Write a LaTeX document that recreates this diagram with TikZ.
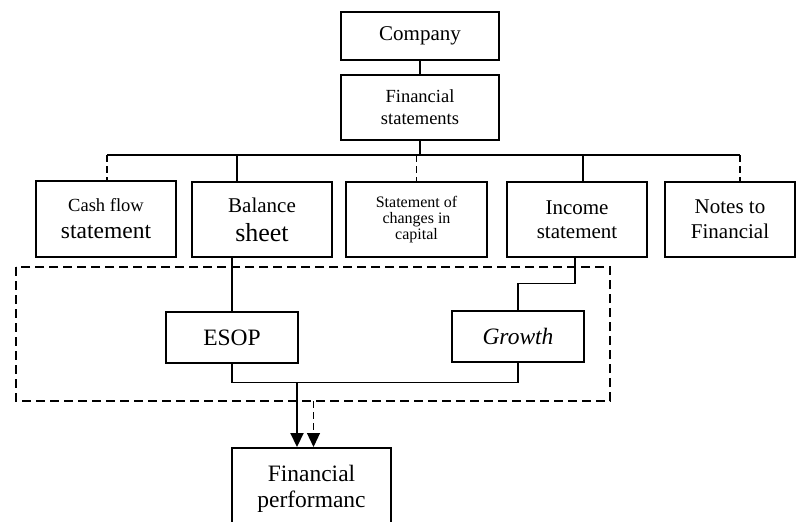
\documentclass[tikz,border=0pt]{standalone}
\usepackage{fontspec}
\setmainfont{Liberation Serif}
\usetikzlibrary{positioning,arrows.meta}
\newcommand\fsz[2]{\fontsize{#1pt}{#2pt}\selectfont}

\begin{document}
\begin{tikzpicture}[x=1pt, y=-1pt,
    box/.style={draw, line width=1.6pt, align=center, inner sep=0pt},
    link/.style={line width=1.2pt},
    dlink/.style={line width=1.2pt, dash pattern=on 7pt off 4pt},
    >={Triangle[length=14pt,width=13pt]}]
    \path[use as bounding box, fill=white] (0,0) rectangle (796,522);

    % top of the tree
    \node [box, minimum width=158pt, minimum height=48pt, font=\fsz{21}{24}] (company) at (420,36) {Company};
    \node [box, minimum width=158pt, minimum height=65pt, font=\fsz{18.5}{22}] (fs) at (420,107.5) {Financial\\statements};

    % the five statements
    \node [box, minimum width=140pt, minimum height=76pt, font=\fsz{23.5}{27}] (cash) at (106,219) {{\fsz{18.5}{22}Cash flow}\\statement};
    \node [box, minimum width=140pt, minimum height=75pt, font=\fsz{26}{29}] (bal) at (262,219.5) {{\fsz{21}{24}Balance}\\sheet};
    \node [box, minimum width=141pt, minimum height=75pt, font=\fsz{16}{16}] (soc) at (416.5,219.5) {Statement of\\changes in\\capital};
    \node [box, minimum width=140pt, minimum height=75pt, font=\fsz{21}{24}] (inc) at (577,219.5) {Income\\statement};
    \node [box, minimum width=130pt, minimum height=75pt, font=\fsz{21}{25}] (notes) at (730,219.5) {Notes to\\Financial};

    \coordinate (busL) at (107,155);
    \coordinate (busR) at (740,155);
    \draw[link] (company) -- (fs);
    \draw[link] (fs.south) -- (fs.south |- busL);
    \draw[link] (busL) -- (busR);
    \draw[dlink] (busL) -- (busL |- cash.north);
    \draw[link] ([xshift=-25pt]bal.north |- busL) -- ([xshift=-25pt]bal.north);
    \draw[dlink] (soc.north |- busL) -- (soc.north);
    \draw[link] ([xshift=6pt]inc.north |- busL) -- ([xshift=6pt]inc.north);
    \draw[dlink] (busR) -- (busR |- notes.north);

    % dashed group
    \coordinate (grpNW) at (16,267);
    \coordinate (grpSE) at (610,401);
    \draw[line width=1.2pt, dash pattern=on 9pt off 5pt] (grpNW) rectangle (grpSE);

    \node [box, minimum width=132pt, minimum height=51pt, font=\fsz{23.5}{27}] (esop) at (232,337.5) {ESOP};
    \node [box, minimum width=132pt, minimum height=51pt, font=\fsz{23.5}{27}\itshape] (growth) at (518,336.5) {Growth};

    \draw[link] (esop.north |- bal.south) -- (esop.north);
    \draw[link] ([xshift=-2pt]inc.south) -- ++(0,26) -| (growth.north);
    \draw[link] (esop.south) -- ++(0,19) -| (growth.south);

    % result
    \node [box, anchor=north, minimum width=159pt, minimum height=82pt, font=\fsz{23.5}{26}] (fp) at (311.5,447) {Financial\\performanc};

    \coordinate (join) at (297,382);
    \draw[line width=2.2pt, ->] (join) -- (join |- fp.north);
    \draw[dlink, ->] ([xshift=2pt]fp.north |- grpSE) -- ([xshift=2pt]fp.north);
\end{tikzpicture}
\end{document}
